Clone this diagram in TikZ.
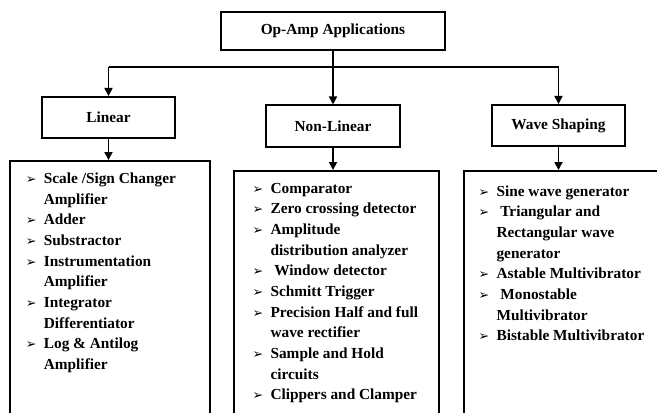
\documentclass[tikz,border=0pt]{standalone}
\usepackage{fontspec}
\setmainfont{Liberation Serif}
\newfontfamily\symfont{DejaVu Sans}
\usetikzlibrary{arrows.meta}
\usetikzlibrary{positioning}

\newcommand{\bul}{{\symfont\fontsize{9.5}{9.5}\selectfont ➢}}
\newcommand{\litem}[1]{\par\hangindent=13.5pt\hangafter=1\noindent\makebox[13.5pt][l]{\bul}#1}
\newcommand{\listtext}[1]{\parbox[t][250pt][t]{126pt}{\raggedright\fontsize{11.5}{15.5}\selectfont\bfseries #1}}

\begin{document}
\begin{tikzpicture}
    [x=0.75pt,y=-0.75pt,
headbox/.style={rectangle, draw=black, line width=1.3pt, fill=white, minimum width=168pt, minimum height=28.5pt, inner sep=0pt, font=\fontsize{11.5}{13}\selectfont\bfseries},
catbox/.style={rectangle, draw=black, line width=1.3pt, fill=white, minimum width=100pt, minimum height=31pt, inner sep=0pt, font=\fontsize{11.5}{13}\selectfont\bfseries},
listbox/.style={rectangle, draw=black, line width=1.3pt, fill=white, anchor=north west, inner xsep=12pt, inner ysep=9pt},
link/.style={line width=1.3pt, -{Triangle[length=6pt,width=6pt]}}
]

\useasboundingbox (0,0) rectangle (657,412);

\node[headbox](root) at (333,31){Op-Amp Applications};

\node[catbox](lin) at (108.5,117.5){Linear};
\node[catbox](nonlin) at (333,126){Non-Linear};
\node[catbox](wave) at (558.5,125.5){Wave Shaping};

\coordinate (bl) at (108.5,67);
\coordinate (br) at (558.5,67);

\node[listbox](linlist) at (9,160){\listtext{%
\litem{Scale /Sign Changer\newline Amplifier}
\litem{Adder}
\litem{Substractor}
\litem{Instrumentation\newline Amplifier}
\litem{Integrator\newline Differentiator}
\litem{Log \& Antilog\newline Amplifier}}};

\node[listbox, inner xsep=14pt](nonlinlist) at (233,170){\listtext{%
\litem{Comparator}
\litem{Zero crossing detector}
\litem{Amplitude\newline distribution analyzer}
\litem{\ Window detector}
\litem{Schmitt Trigger}
\litem{Precision Half and full\newline wave rectifier}
\litem{Sample and Hold\newline circuits}
\litem{Clippers and Clamper}}};

\node[listbox, inner xsep=11pt, inner ysep=11pt](wavelist) at (463,170){\listtext{%
\litem{Sine wave generator}
\litem{\ Triangular and\newline Rectangular wave\newline generator}
\litem{Astable Multivibrator}
\litem{\ Monostable\newline Multivibrator}
\litem{Bistable Multivibrator}}};

\draw[line width=1.3pt] (bl) -- (br);
\draw[link] (root) -- (nonlin);
\draw[link] (bl) -- (lin);
\draw[link] (br) -- (wave);
\draw[link] (lin) -- (lin |- linlist.north);
\draw[link] (nonlin) -- (nonlin |- nonlinlist.north);
\draw[link] (wave) -- (wave |- wavelist.north);

\end{tikzpicture}
\end{document}
